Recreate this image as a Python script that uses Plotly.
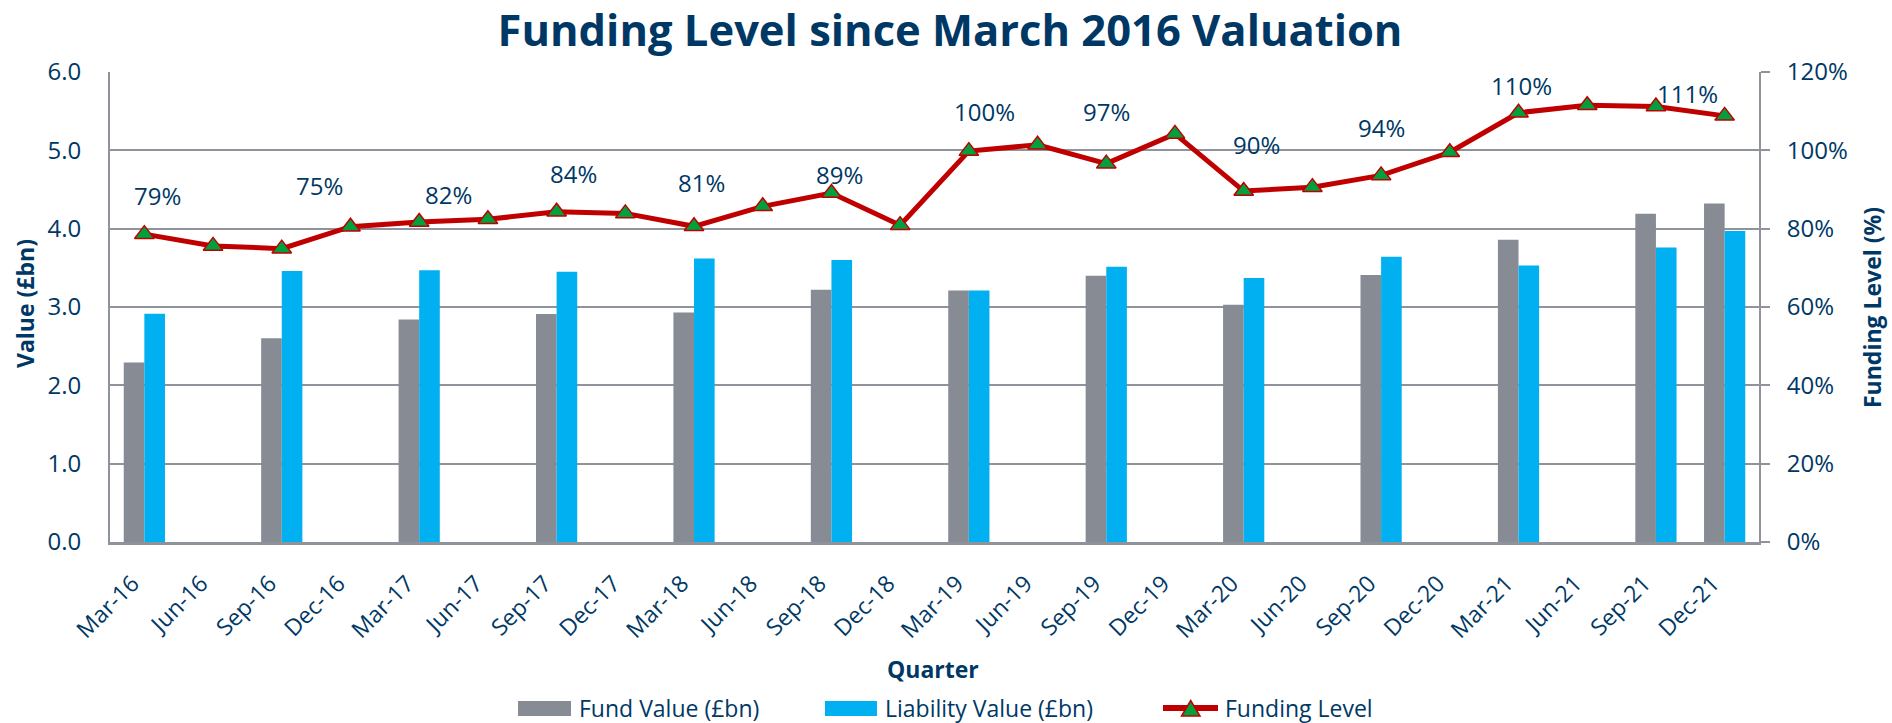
import plotly.graph_objects as go

quarters = ["Mar-16", "Jun-16", "Sep-16", "Dec-16", "Mar-17", "Jun-17", "Sep-17", "Dec-17",
            "Mar-18", "Jun-18", "Sep-18", "Dec-18", "Mar-19", "Jun-19", "Sep-19", "Dec-19",
            "Mar-20", "Jun-20", "Sep-20", "Dec-20", "Mar-21", "Jun-21", "Sep-21", "Dec-21"]

fund_value = [2.29, None, 2.60, None, 2.84, None, 2.91, None,
              2.93, None, 3.22, None, 3.21, None, 3.40, None,
              3.03, None, 3.41, None, 3.86, None, 4.19, 4.32]

liability_value = [2.915, None, 3.46, None, 3.47, None, 3.45, None,
                   3.62, None, 3.60, None, 3.21, None, 3.515, None,
                   3.37, None, 3.64, None, 3.53, None, 3.76, 3.97]

funding_level = [78.6, 75.6, 74.9, 80.5, 81.7, 82.4, 84.3, 83.9,
                 80.6, 85.7, 89.1, 80.9, 99.8, 101.4, 96.6, 104.2,
                 89.6, 90.6, 93.6, 99.5, 109.6, 111.5, 111.2, 108.8]

labelled_quarters = ["Mar-16", "Sep-16", "Mar-17", "Sep-17", "Mar-18", "Sep-18",
                     "Mar-19", "Sep-19", "Mar-20", "Sep-20", "Mar-21", "Sep-21"]

# label pixel offsets (layout only)
label_dx = [13, 38, 29, 17, 7, 8, 16, 0, 13, 0, 3, 32]
label_dy = [39, 63, 28, 38, 44, 19, 40, 52, 47, 48, 27, 13]

NAVY = "#003865"
GRAY_BAR = "#878C94"
BLUE_BAR = "#00B0F0"
RED = "#C00000"
GREEN = "#00A03E"
GRID = "#8E939C"
FONT = "Open Sans"

W, H = 1892, 723
L, R, T, B = 110, 133, 72, 181
PW, PH = W - L - R, H - T - B


def px(x):
    return (x - L) / PW


def py(y):
    return (H - B - y) / PH


fig = go.Figure()
fig.add_trace(go.Bar(x=quarters, y=fund_value, name="Fund Value (£bn)",
                     marker=dict(color=GRAY_BAR, line=dict(width=0)), showlegend=False))
fig.add_trace(go.Bar(x=quarters, y=liability_value, name="Liability Value (£bn)",
                     marker=dict(color=BLUE_BAR, line=dict(width=0)), showlegend=False))
fig.add_trace(go.Scatter(x=quarters, y=funding_level, name="Funding Level", yaxis="y2",
                         mode="lines+markers",
                         line=dict(color=RED, width=5),
                         marker=dict(symbol="triangle-up", size=17, color=GREEN,
                                     line=dict(color=RED, width=1.5)),
                         showlegend=False))

annotations = []
for q, dx, dy in zip(labelled_quarters, label_dx, label_dy):
    v = funding_level[quarters.index(q)]
    annotations.append(dict(x=q, y=v, xref="x", yref="y2", text=f"{round(v)}%",
                            showarrow=False, xshift=dx, yshift=dy,
                            font=dict(family=FONT, size=24, color=NAVY)))

# axis titles
annotations.append(dict(x=px(25), y=py(304), xref="paper", yref="paper", text="<b>Value (£bn)</b>",
                        textangle=-90, showarrow=False, xanchor="center", yanchor="middle",
                        font=dict(family=FONT, size=23, color=NAVY)))
annotations.append(dict(x=px(1872), y=py(308), xref="paper", yref="paper", text="<b>Funding Level (%)</b>",
                        textangle=-90, showarrow=False, xanchor="center", yanchor="middle",
                        font=dict(family=FONT, size=23, color=NAVY)))
annotations.append(dict(x=px(933), y=py(669), xref="paper", yref="paper", text="<b>Quarter</b>",
                        showarrow=False, xanchor="center", yanchor="middle",
                        font=dict(family=FONT, size=23, color=NAVY)))

# manual legend
shapes = []
legend_y = 707.5
items = [("Fund Value (£bn)", GRAY_BAR, 518, 571, 577),
         ("Liability Value (£bn)", BLUE_BAR, 825, 877, 883)]
for name, col, x0, x1, tx in items:
    shapes.append(dict(type="rect", xref="paper", yref="paper",
                       x0=px(x0), x1=px(x1), y0=py(716), y1=py(701),
                       fillcolor=col, line=dict(width=0)))
    annotations.append(dict(x=px(tx), y=py(legend_y), xref="paper", yref="paper", text=name,
                            showarrow=False, xanchor="left", yanchor="middle",
                            font=dict(family=FONT, size=23, color=NAVY)))
shapes.append(dict(type="line", xref="paper", yref="paper", x0=px(1163), x1=px(1218),
                   y0=py(708), y1=py(708), line=dict(color=RED, width=6)))
tri = (f"M {px(1181.5)} {py(716)} L {px(1200)} {py(716)} L {px(1190.7)} {py(700.5)} Z")
shapes.append(dict(type="path", xref="paper", yref="paper", path=tri,
                   fillcolor=GREEN, line=dict(color=RED, width=1.5)))
annotations.append(dict(x=px(1223), y=py(legend_y), xref="paper", yref="paper", text="Funding Level",
                        showarrow=False, xanchor="left", yanchor="middle",
                        font=dict(family=FONT, size=23, color=NAVY)))

fig.update_layout(
    width=W, height=H,
    margin=dict(l=L, r=R, t=T, b=B, autoexpand=False),
    paper_bgcolor="white", plot_bgcolor="white",
    barmode="group", bargap=0.4, bargroupgap=0,
    showlegend=False,
    title=dict(text="<b>Funding Level since March 2016 Valuation</b>",
               x=950 / W, xref="container", xanchor="center",
               y=1 - 31 / H, yref="container", yanchor="middle",
               font=dict(family=FONT, size=43.5, color=NAVY)),
    font=dict(family=FONT, color=NAVY),
    xaxis=dict(type="category", range=[-0.5, len(quarters) - 0.5], tickangle=-45, showgrid=False,
               showline=True, linecolor=GRID, linewidth=3, ticks="",
               tickfont=dict(family=FONT, size=23, color=NAVY),
               ticklabelstandoff=16, ticklabelshift=-12, automargin=False),
    yaxis=dict(range=[0, 6], dtick=1, tickformat=".1f", showgrid=True, gridcolor=GRID, gridwidth=2,
               zeroline=False, showline=True, linecolor=GRID, linewidth=2, ticks="",
               tickfont=dict(family=FONT, size=24, color=NAVY),
               ticklabelstandoff=22, automargin=False),
    yaxis2=dict(range=[0, 120], dtick=20, ticksuffix="%", overlaying="y", side="right",
                showgrid=False, zeroline=False, showline=True, linecolor=GRID, linewidth=2,
                ticks="outside", ticklen=9, tickwidth=2, tickcolor=GRID,
                tickfont=dict(family=FONT, size=24, color=NAVY),
                ticklabelstandoff=12, automargin=False),
    annotations=annotations,
    shapes=shapes,
)

fig.write_html("out.html", config={"displayModeBar": False},
               post_script="document.body.style.margin='0';document.body.style.padding='0';document.body.style.overflow='hidden';")
